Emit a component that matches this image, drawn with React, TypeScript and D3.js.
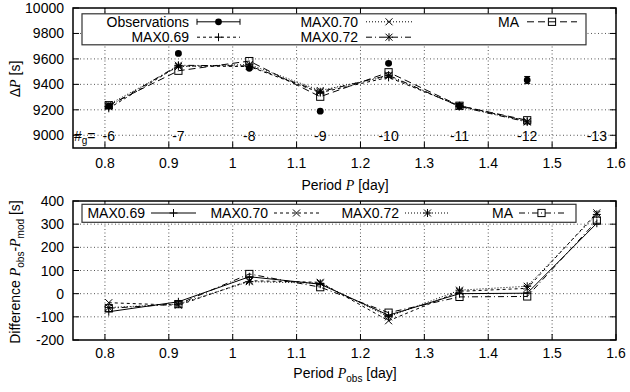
import React from "react";
import * as d3 from "d3";

const periods = [0.806, 0.915, 1.026, 1.137, 1.244, 1.355, 1.461, 1.57];
const orderLabels = ["-6", "-7", "-8", "-9", "-10", "-11", "-12", "-13"];

const obsDP = [9230, 9643, 9526, 9189, 9565, 9232, 9434];
const obsErr = [10, 10, 10, 8, 10, 8, 28];
const max069DP = [9212, 9545, 9540, 9335, 9455, 9232, 9112];
const max070DP = [9242, 9540, 9556, 9352, 9465, 9228, 9108];
const max072DP = [9225, 9550, 9545, 9342, 9472, 9226, 9104];
const maDP = [9236, 9507, 9583, 9303, 9495, 9232, 9118];

const max069Diff = [-78, -35, 73, 41, -93, 0, 2, 304];
const max070Diff = [-39, -50, 56, 49, -117, 10, 23, 349];
const max072Diff = [-60, -45, 52, 45, -100, 15, 32, 342];
const maDiff = [-63, -45, 85, 28, -82, -14, -12, 315];

const xTicks = [0.8, 0.9, 1.0, 1.1, 1.2, 1.3, 1.4, 1.5, 1.6];
const yTopTicks = [9000, 9200, 9400, 9600, 9800, 10000];
const yBotTicks = [-200, -100, 0, 100, 200, 300, 400];

const FONT = "'Liberation Sans', Arial, Helvetica, sans-serif";
const SERIF = "'Liberation Serif', 'Times New Roman', serif";
const FS = 14;

const L = 73, R = 616;
const x = d3.scaleLinear().domain([0.75, 1.6]).range([L, R]);
const yTop = d3.scaleLinear().domain([8900, 10000]).range([148, 8]);
const yBot = d3.scaleLinear().domain([-200, 400]).range([340, 201]);

type MarkerType = "circle" | "plus" | "cross" | "star" | "square";

function Marker({ type, cx, cy }: { type: MarkerType; cx: number; cy: number }) {
  const s = 4;
  const c = 3.5;
  const st = { stroke: "#000", strokeWidth: 1, fill: "none" } as any;
  if (type === "circle") return <circle cx={cx} cy={cy} r={3.4} fill="#000" />;
  if (type === "square")
    return <rect x={cx - 3.6} y={cy - 3.6} width={7.2} height={7.2} {...st} />;
  const plus = (
    <g key="p">
      <line x1={cx - s} x2={cx + s} y1={cy} y2={cy} {...st} />
      <line x1={cx} x2={cx} y1={cy - s} y2={cy + s} {...st} />
    </g>
  );
  const cross = (
    <g key="c">
      <line x1={cx - c} x2={cx + c} y1={cy - c} y2={cy + c} {...st} />
      <line x1={cx - c} x2={cx + c} y1={cy + c} y2={cy - c} {...st} />
    </g>
  );
  if (type === "plus") return plus;
  if (type === "cross") return cross;
  return (
    <g>
      {plus}
      {cross}
    </g>
  );
}

interface Series {
  name: string;
  values: number[];
  dash: string;
  marker: MarkerType;
}

const topSeries: Series[] = [
  { name: "MAX0.69", values: max069DP, dash: "3,3", marker: "plus" },
  { name: "MAX0.70", values: max070DP, dash: "1,2", marker: "cross" },
  { name: "MAX0.72", values: max072DP, dash: "6,3,1,3", marker: "star" },
  { name: "MA", values: maDP, dash: "7,4", marker: "square" },
];

const botSeries: Series[] = [
  { name: "MAX0.69", values: max069Diff, dash: "none", marker: "plus" },
  { name: "MAX0.70", values: max070Diff, dash: "3,3", marker: "cross" },
  { name: "MAX0.72", values: max072Diff, dash: "1,2", marker: "star" },
  { name: "MA", values: maDiff, dash: "6,3,1,3", marker: "square" },
];

const fmtX = (v: number) => String(+v.toFixed(1));

function Frame({ top, bottom, yScale, yTicks, tickBaseline }: any) {
  const grid = { stroke: "#555", strokeWidth: 1, strokeDasharray: "1,2.5" };
  return (
    <g>
      {xTicks
        .filter((t) => t < 1.59)
        .map((t) => (
          <line key={"gx" + t} x1={x(t)} x2={x(t)} y1={top} y2={bottom} {...grid} />
        ))}
      {yTicks
        .filter((t: number) => yScale(t) > top + 1 && yScale(t) < bottom - 1)
        .map((t: number) => (
          <line key={"gy" + t} x1={L} x2={R} y1={yScale(t)} y2={yScale(t)} {...grid} />
        ))}
      {xTicks.map((t) => (
        <g key={"tx" + t}>
          <line x1={x(t)} x2={x(t)} y1={bottom} y2={bottom - 6} stroke="#000" />
          <line x1={x(t)} x2={x(t)} y1={top} y2={top + 6} stroke="#000" />
          <text x={x(t)} y={tickBaseline} textAnchor="middle" fontSize={FS} fontFamily={FONT}>
            {fmtX(t)}
          </text>
        </g>
      ))}
      {yTicks.map((t: number) => (
        <g key={"ty" + t}>
          <line x1={L} x2={L + 6} y1={yScale(t)} y2={yScale(t)} stroke="#000" />
          <line x1={R} x2={R - 6} y1={yScale(t)} y2={yScale(t)} stroke="#000" />
          <text x={64} y={yScale(t) + 5} textAnchor="end" fontSize={FS} fontFamily={FONT}>
            {t}
          </text>
        </g>
      ))}
      <rect x={L} y={top} width={R - L} height={bottom - top} fill="none" stroke="#000" strokeWidth={1.5} />
    </g>
  );
}

function SeriesLines({ series, yScale }: { series: Series[]; yScale: any }) {
  return (
    <g>
      {series.map((s) => {
        const pts = s.values.map((v, i) => [x(periods[i]), yScale(v)] as [number, number]);
        const path = d3.line()(pts) || "";
        return (
          <g key={s.name}>
            <path d={path} fill="none" stroke="#000" strokeWidth={1} strokeDasharray={s.dash} />
            {pts.map((p, i) => (
              <Marker key={i} type={s.marker} cx={p[0]} cy={p[1]} />
            ))}
          </g>
        );
      })}
    </g>
  );
}

function LegendSample({ x1, x2, y, s }: { x1: number; x2: number; y: number; s: Series }) {
  return (
    <g>
      <line x1={x1} x2={x2} y1={y} y2={y} stroke="#000" strokeDasharray={s.dash} />
      <Marker type={s.marker} cx={(x1 + x2) / 2} cy={y} />
    </g>
  );
}

export default function App() {
  const topCols = [189, 358, 519];
  const topSampleLen = [43, 46, 50];
  const topRows = [21.8, 37.2];
  const topEntries: { col: number; row: number; s: Series | null; name: string }[] = [
    { col: 0, row: 0, s: null, name: "Observations" },
    { col: 0, row: 1, s: topSeries[0], name: topSeries[0].name },
    { col: 1, row: 0, s: topSeries[1], name: topSeries[1].name },
    { col: 1, row: 1, s: topSeries[2], name: topSeries[2].name },
    { col: 2, row: 0, s: topSeries[3], name: topSeries[3].name },
  ];
  const botEnds = [145, 268, 399, 513];
  const botY = 213;

  return (
    <svg
      width={630}
      height={392}
      style={{ position: "absolute", left: 0, top: 0, background: "#fff" }}
      fontFamily={FONT}
    >
      <rect width={630} height={392} fill="#fff" />
      {/* ---------- TOP PANEL ---------- */}
      <Frame top={8} bottom={148} yScale={yTop} yTicks={yTopTicks} tickBaseline={168} />
      <text x={74} y={141} fontSize={FS}>
        #<tspan fontSize={10} dy={3}>g</tspan>
        <tspan dy={-3}>=</tspan>
      </text>
      {orderLabels.map((lab, i) => (
        <text key={lab} x={x(periods[i])} y={141} textAnchor="middle" fontSize={FS}>
          {lab}
        </text>
      ))}
      <SeriesLines series={topSeries} yScale={yTop} />
      {obsDP.map((v, i) => {
        const cx = x(periods[i]);
        const y1 = yTop(v - obsErr[i]);
        const y2 = yTop(v + obsErr[i]);
        return (
          <g key={"obs" + i}>
            <line x1={cx} x2={cx} y1={y1} y2={y2} stroke="#000" />
            <line x1={cx - 3} x2={cx + 3} y1={y1} y2={y1} stroke="#000" />
            <line x1={cx - 3} x2={cx + 3} y1={y2} y2={y2} stroke="#000" />
            <Marker type="circle" cx={cx} cy={yTop(v)} />
          </g>
        );
      })}
      <rect x={82} y={13.8} width={504} height={31} fill="#fff" stroke="#333" strokeWidth={1.2} />
      {topEntries.map((e) => {
        const tx = topCols[e.col];
        const cy = topRows[e.row];
        const x1 = tx + 8;
        const x2 = x1 + topSampleLen[e.col];
        return (
          <g key={e.name}>
            <text x={tx} y={cy + 5} textAnchor="end" fontSize={FS}>
              {e.name}
            </text>
            {e.s ? (
              <LegendSample x1={x1} x2={x2} y={cy} s={e.s} />
            ) : (
              <g>
                <line x1={x1} x2={x2} y1={cy} y2={cy} stroke="#000" />
                <line x1={x1} x2={x1} y1={cy - 3} y2={cy + 3} stroke="#000" />
                <line x1={x2} x2={x2} y1={cy - 3} y2={cy + 3} stroke="#000" />
                <Marker type="circle" cx={(x1 + x2) / 2} cy={cy} />
              </g>
            )}
          </g>
        );
      })}
      <text x={345} y={190} textAnchor="middle" fontSize={FS}>
        Period <tspan fontFamily={SERIF} fontStyle="italic">P</tspan> [day]
      </text>
      <text transform="translate(20,79) rotate(-90)" textAnchor="middle" fontSize={FS}>
        Δ<tspan fontFamily={SERIF} fontStyle="italic">P</tspan> [s]
      </text>

      {/* ---------- BOTTOM PANEL ---------- */}
      <Frame top={201} bottom={340} yScale={yBot} yTicks={yBotTicks} tickBaseline={358} />
      <SeriesLines series={botSeries} yScale={yBot} />
      <rect x={82} y={204.3} width={494} height={18} fill="#fff" stroke="#333" strokeWidth={1.2} />
      {botSeries.map((s, i) => {
        const tx = botEnds[i];
        const x1 = tx + 6;
        const x2 = x1 + 45;
        return (
          <g key={"bl" + s.name}>
            <text x={tx} y={botY + 5} textAnchor="end" fontSize={FS}>
              {s.name}
            </text>
            <LegendSample x1={x1} x2={x2} y={botY} s={s} />
          </g>
        );
      })}
      <text x={345} y={378} textAnchor="middle" fontSize={FS}>
        Period <tspan fontFamily={SERIF} fontStyle="italic">P</tspan>
        <tspan fontSize={10} dy={4}>obs</tspan>
        <tspan dy={-4}> [day]</tspan>
      </text>
      <text transform="translate(20,272) rotate(-90)" textAnchor="middle" fontSize={FS}>
        Difference <tspan fontFamily={SERIF} fontStyle="italic">P</tspan>
        <tspan fontSize={10} dy={4}>obs</tspan>
        <tspan dy={-4}>-</tspan>
        <tspan fontFamily={SERIF} fontStyle="italic">P</tspan>
        <tspan fontSize={10} dy={4}>mod</tspan>
        <tspan dy={-4}> [s]</tspan>
      </text>
    </svg>
  );
}
